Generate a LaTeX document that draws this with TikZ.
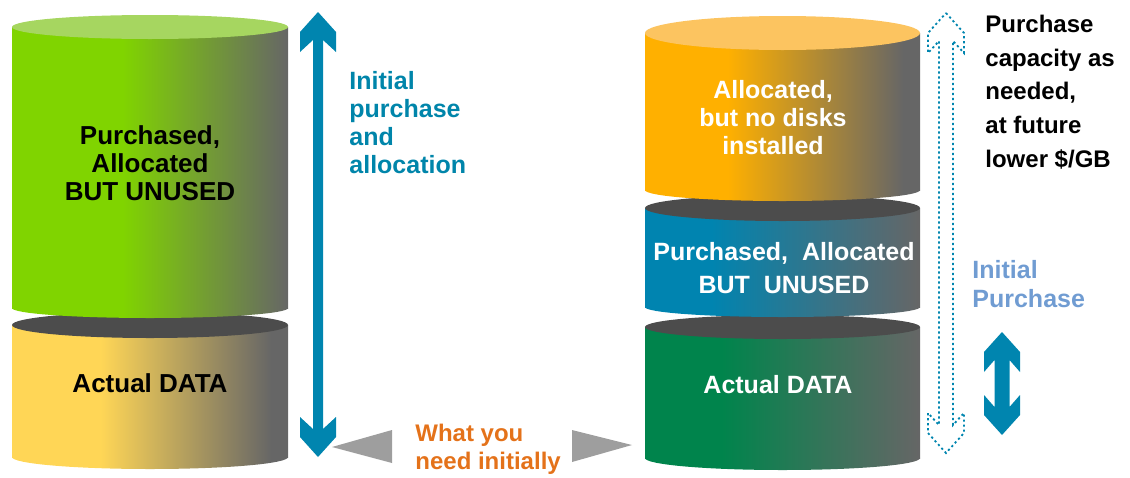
\documentclass[tikz,border=0pt]{standalone}
\usepackage{fontspec}
\setmainfont{Liberation Sans}
\usetikzlibrary{positioning}

\definecolor{cylgray}{RGB}{102,102,102}
\definecolor{cyldark}{RGB}{76,76,76}
\definecolor{limegreen}{RGB}{128,212,0}
\definecolor{limetop}{RGB}{166,214,96}
\definecolor{sunyellow}{RGB}{255,214,86}
\definecolor{amber}{RGB}{255,176,0}
\definecolor{ambertop}{RGB}{252,196,96}
\definecolor{oceanblue}{RGB}{0,132,176}
\definecolor{forestgreen}{RGB}{0,132,76}
\definecolor{arrowblue}{RGB}{0,133,175}
\definecolor{notetext}{RGB}{0,133,170}
\definecolor{needorange}{RGB}{228,114,26}
\definecolor{skyblue}{RGB}{112,156,210}
\definecolor{pointergray}{RGB}{158,158,158}

% colour on the left, fading into grey on the right
\newcommand\cylshading[4]{%
  \pgfdeclarehorizontalshading{#1}{100bp}{color(0bp)=(#2); color(#3)=(#2);
    color(#4)=(cylgray); color(100bp)=(cylgray)}}
\cylshading{limeshade}{limegreen}{45bp}{75bp}
\cylshading{yellowshade}{sunyellow}{41bp}{72bp}
\cylshading{ambershade}{amber}{40bp}{72bp}
\cylshading{blueshade}{oceanblue}{37bp}{75bp}
\cylshading{forestshade}{forestgreen}{39bp}{75bp}

% #1 shading, #2 lid colour, #3/#4 left/right x, #5/#6 top/bottom y, #7/#8 lid/base radius
\newcommand\drum[8]{%
  \shade[shading=#1] (#3,#5) rectangle (#4,#6);
  \shade[shading=#1] ({(#3+#4)/2},#6) ellipse [x radius={(#4-#3)/2}, y radius=#8];
  \fill[#2] ({(#3+#4)/2},#5) ellipse [x radius={(#4-#3)/2}, y radius=#7];
}

% #1 style, #2 centre x, #3/#4 top/bottom tip y, #5 half shaft
\newcommand\twowayarrow[5]{%
  \path[#1] (#2,#3) -- ++(18,20) -- ++(0,20) -- (#2+#5,#3+28)
    -- (#2+#5,#4-28) -- (#2+18,#4-40) -- ++(0,20) -- (#2,#4)
    -- ++(-18,-20) -- ++(0,-20) -- (#2-#5,#4-28)
    -- (#2-#5,#3+28) -- (#2-18,#3+40) -- ++(0,-20) -- cycle;}

\begin{document}
\begin{tikzpicture}[x=0.5pt, y=-0.5pt,
    darklabel/.style={align=center, font=\bfseries\fontsize{13}{14}\selectfont, text=black, inner sep=0pt},
    lightlabel/.style={align=center, font=\bfseries\fontsize{12.5}{16.5}\selectfont, text=white, inner sep=0pt},
    sidenote/.style={align=left, anchor=west, font=\bfseries\fontsize{12.5}{14}\selectfont, inner sep=0pt},
    pointer/.style={fill=pointergray},
    solidarrow/.style={fill=arrowblue},
    dottedarrow/.style={draw=arrowblue, line width=0.9pt, dash pattern=on 1.1pt off 1.4pt}
]
\useasboundingbox (0,0) rectangle (1130,477);

% today: everything bought up front
\drum{yellowshade}{cyldark}{12}{288}{325}{457}{13}{12}
\drum{limeshade}{limetop}{12}{288}{27}{308}{12}{10}
\node[darklabel] (unused) at (150,163) {Purchased,\\Allocated\\BUT UNUSED};
\node[darklabel] (data) at (150,383) {Actual DATA};

\twowayarrow{solidarrow}{318}{12}{457}{5}
\node[sidenote, text=notetext] (initial) at (349,123) {Initial\\purchase\\and\\allocation};

% what is really needed
\node[sidenote, text=needorange, font=\bfseries\fontsize{12}{14}\selectfont] (need) at (415,449) {What you\\need initially};
\fill[pointer] (392,430) -- (332,447) -- (392,463) -- cycle;
\fill[pointer] (572,430) -- (632,445) -- (572,462) -- cycle;

% thin provisioning: buy disks later
\drum{forestshade}{cyldark}{645}{920}{327}{458}{12}{12}
\drum{blueshade}{cyldark}{645}{920}{208}{307}{13}{10}
\drum{ambershade}{ambertop}{645}{920}{33}{190}{17}{11}
\node[lightlabel, font=\bfseries\fontsize{12.5}{14}\selectfont] (nodisks) at (773,118) {Allocated,\\but no disks\\installed};
\node[lightlabel] (spare) at (784,268) {Purchased,\ \ Allocated\\BUT\ \ UNUSED};
\node[lightlabel] (actual) at (778,385) {Actual DATA};

\twowayarrow{dottedarrow}{946}{13}{453}{7}
\node[sidenote, font=\bfseries\fontsize{12}{16.9}\selectfont] (later) at (985,92) {Purchase\\capacity as\\needed,\\at future\\lower \$/GB};
\node[sidenote, text=skyblue, font=\bfseries\fontsize{12.5}{14.5}\selectfont] (bought) at (972,284) {Initial\\Purchase};
\twowayarrow{solidarrow}{1002}{332}{435}{7.5}
\end{tikzpicture}
\end{document}
